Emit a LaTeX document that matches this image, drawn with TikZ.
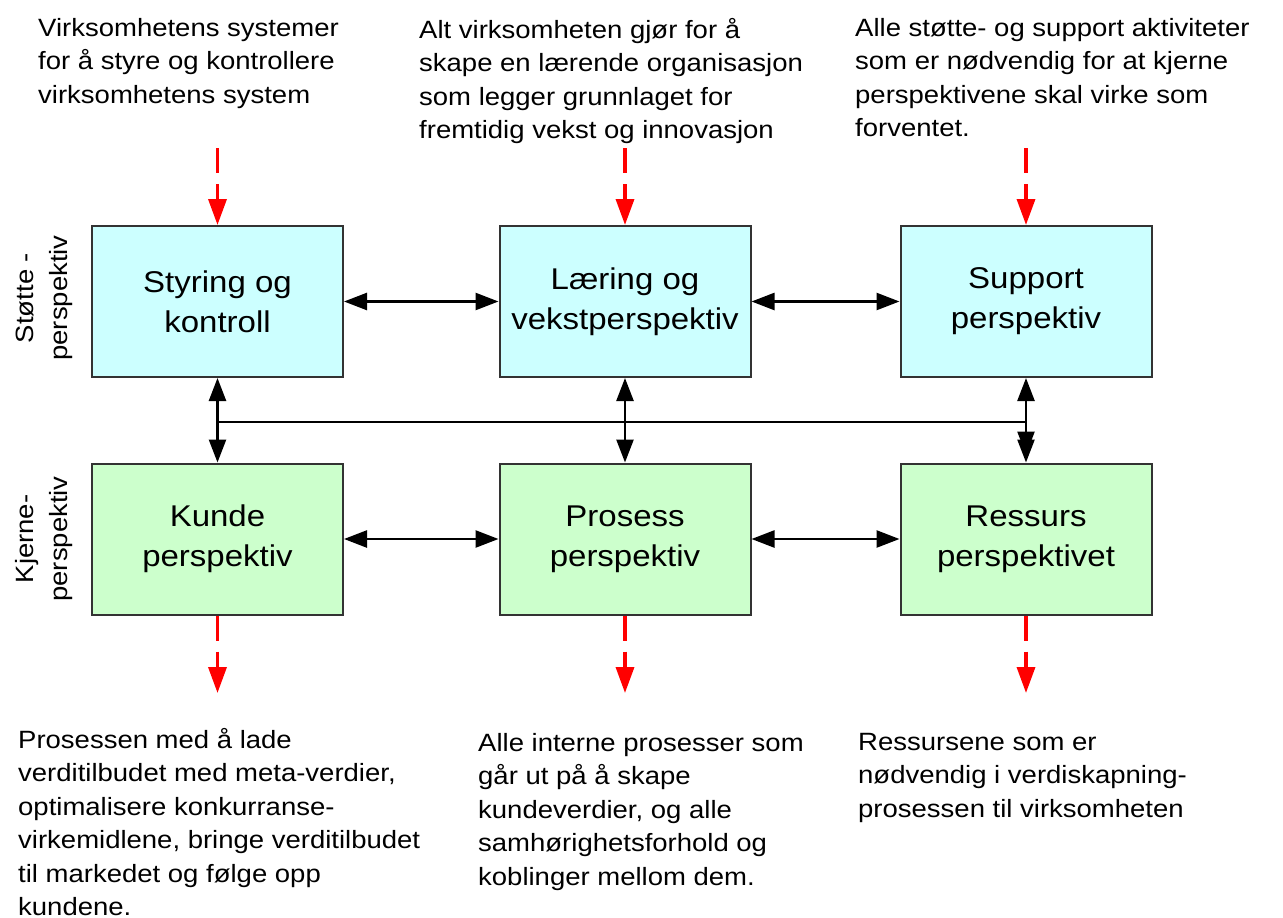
\documentclass[tikz,border=0pt]{standalone}
\usepackage{fontspec}
\setmainfont{Liberation Sans}[FakeStretch=1.1]
\usetikzlibrary{arrows.meta}
\definecolor{topfill}{HTML}{CCFFFF}
\definecolor{botfill}{HTML}{CCFFCC}
\definecolor{boxline}{HTML}{333333}
\begin{document}
\begin{tikzpicture}[x=1pt,y=-1pt,
  box/.style={draw=boxline, line width=2pt, minimum width=251pt, minimum height=151pt,
    inner sep=0pt, align=center, font=\fontsize{30}{40}\selectfont},
  topbox/.style={box, fill=topfill},
  botbox/.style={box, fill=botfill},
  note/.style={anchor=north west, align=left, inner sep=0pt, font=\fontsize{25}{33.5}\selectfont},
  side/.style={rotate=90, align=center, inner sep=0pt, font=\fontsize{25}{34}\selectfont},
  blk/.style={line width=2.5pt},
  dbl/.style={blk, {Triangle[length=23pt,width=17pt]}-{Triangle[length=23pt,width=17pt]}},
  sgl/.style={blk, -{Triangle[length=23pt,width=17pt]}},
  redarr/.style={red, line width=3.5pt, dash pattern=on 25pt off 11pt,
    -{Triangle[length=26pt,width=18pt]}}
]
\useasboundingbox (0,0) rectangle (1283,918);

% boxes
\node[topbox] (lt) at (217.5,301.5) {Styring og\\kontroll};
\node[topbox] (mt) at (625,301.5) {Læring og\\vekstperspektiv};
\node[topbox] (rt) at (1026,301.5) {Support\\perspektiv};
\node[botbox] (lb) at (217.5,539) {Kunde\\perspektiv};
\node[botbox] (mb) at (625,539) {Prosess\\perspektiv};
\node[botbox] (rb) at (1026,539) {Ressurs\\perspektivet};

% side labels
\node[side] (stotte) at (44,298) {Støtte -\\perspektiv};
\node[side] (kjerne) at (44,539) {Kjerne-\\perspektiv};

% horizontal arrows
\draw[dbl] (lt.east) -- (mt.west);
\draw[dbl] (mt.east) -- (rt.west);
\draw[dbl] (lb.east) -- (mb.west);
\draw[dbl] (mb.east) -- (rb.west);

% vertical connectors
\coordinate (j1) at (217.5,422);
\coordinate (j3) at (1026,422);
\draw[blk] (j1) -- (j3);
\draw[dbl] (lt.south) -- (lb.north);
\draw[dbl] (mt.south) -- (mb.north);
\draw[dbl] (rt.south) -- (rb.north);
\draw[sgl] (j3) -- ([yshift=8pt]rb.north);

% red dashed arrows
\coordinate (r1) at (217.5,148);
\coordinate (r2) at (625,148);
\coordinate (r3) at (1026,148);
\coordinate (r4) at (217.5,693);
\coordinate (r5) at (625,693);
\coordinate (r6) at (1026,693);
\draw[redarr] (r1) -- (lt.north);
\draw[redarr] (r2) -- (mt.north);
\draw[redarr] (r3) -- (rt.north);
\draw[redarr] (lb.south) -- (r4);
\draw[redarr] (mb.south) -- (r5);
\draw[redarr] (rb.south) -- (r6);

% notes
\node[note] (n1) at (38,18) {Virksomhetens systemer\\for å styre og kontrollere\\virksomhetens system};
\node[note] (n2) at (419,18) {Alt virksomheten gjør for å\\skape en lærende organisasjon\\som legger grunnlaget for\\fremtidig vekst og innovasjon};
\node[note] (n3) at (855,18) {Alle støtte- og support aktiviteter\\som er nødvendig for at kjerne\\perspektivene skal virke som\\forventet.};
\node[note] (n4) at (18,728) {Prosessen med å lade\\verditilbudet med meta-verdier,\\optimalisere konkurranse-\\virkemidlene, bringe verditilbudet\\til markedet og følge opp\\kundene.};
\node[note] (n5) at (478,733) {Alle interne prosesser som\\går ut på å skape\\kundeverdier, og alle\\samhørighetsforhold og\\koblinger mellom dem.};
\node[note] (n6) at (858,733) {Ressursene som er\\nødvendig i verdiskapning-\\prosessen til virksomheten};
\end{tikzpicture}
\end{document}
